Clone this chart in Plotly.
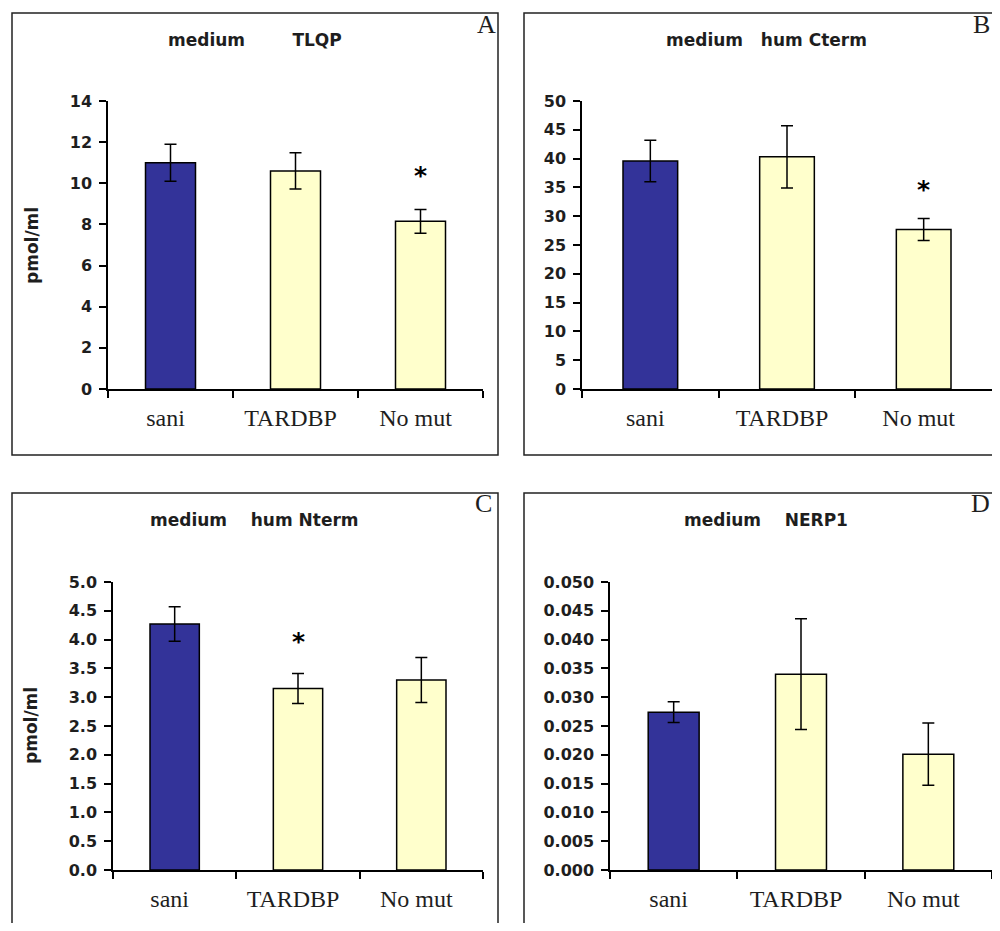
import plotly.graph_objects as go

# ---------------- data ----------------
categories = ["sani", "TARDBP", "No mut"]

tlqp_mean = [11.0, 10.6, 8.15]
tlqp_err = [0.9, 0.88, 0.58]

cterm_mean = [39.6, 40.3, 27.7]
cterm_err = [3.6, 5.4, 1.9]

nterm_mean = [4.27, 3.15, 3.30]
nterm_err = [0.30, 0.26, 0.39]

nerp1_mean = [0.0274, 0.0340, 0.0201]
nerp1_err = [0.0018, 0.0096, 0.0054]

# significance markers (category, y position of the asterisk)
tlqp_sig = [("No mut", 10.5)]
cterm_sig = [("No mut", 35.1)]
nterm_sig = [("TARDBP", 4.02)]
nerp1_sig = []

titles = ["medium        TLQP", "medium   hum Cterm", "medium    hum Nterm", "medium    NERP1"]
letters = ["A", "B", "C", "D"]
y_ranges = [[0, 14], [0, 50], [0, 5], [0, 0.05]]
y_dticks = [2, 5, 0.5, 0.005]
y_formats = ["d", "d", ".1f", ".3f"]

# ---------------- style ----------------
OFF = 8  # page body margin compensation
W, H = 1000 - 2 * OFF, 931 - 2 * OFF
bar_colors = ["#333399", "#FFFFCC", "#FFFFCC"]
TXT = "#1e1e1e"


def px(x):
    return min((x - OFF) / W, 1.0)


def py(y):
    return max(1 - (y - OFF) / H, 0.0)


def pxr(x):
    return (x - OFF) / W


def pyr(y):
    return 1 - (y - OFF) / H


# plot-area pixel boxes: (x0, x1, ytop, ybottom)
boxes = [(108, 483, 101, 389), (582, 994, 101, 389), (113, 483, 582, 870), (610, 994, 582, 870)]
# panel frames (x0, y0, x1, y1) in pixels
frames = [(12, 13, 498, 455), (524, 13, 1012, 455), (12, 493, 498, 945), (524, 493, 1012, 945)]
title_pos = [(255, 40), (766, 40), (254, 520), (766, 520)]
letter_pos = [(498, 24), (992, 24), (494, 504), (992, 504)]
ytitle_pos = [(32, 246), None, (31, 726), None]

means = [tlqp_mean, cterm_mean, nterm_mean, nerp1_mean]
errs = [tlqp_err, cterm_err, nterm_err, nerp1_err]
sigs = [tlqp_sig, cterm_sig, nterm_sig, nerp1_sig]

fig = go.Figure()
annotations = []
shapes = []

for i in range(4):
    s = "" if i == 0 else str(i + 1)
    fig.add_trace(go.Bar(
        x=categories, y=means[i],
        error_y=dict(type="data", array=errs[i], color="black", thickness=1.5, width=6),
        marker=dict(color=bar_colors, line=dict(color="black", width=1.5)),
        width=0.4, xaxis="x" + s, yaxis="y" + s, showlegend=False,
    ))
    x0, x1, yt, yb = boxes[i]
    fig.layout["xaxis" + s] = dict(
        domain=[px(x0), px(x1)], anchor="y" + s, range=[-0.5, 2.5],
        showline=True, linecolor="black", linewidth=1.5,
        ticks="outside", tickson="boundaries", ticklen=7, tickwidth=1.5, tickcolor="black",
        tickfont=dict(family="Liberation Serif", size=24, color=TXT),
        ticklabelstandoff=6, ticklabelshift=-5, automargin=False,
        showgrid=False, zeroline=False, fixedrange=True,
    )
    fig.layout["yaxis" + s] = dict(
        domain=[py(yb), py(yt)], anchor="x" + s, range=y_ranges[i], dtick=y_dticks[i],
        tick0=0, tickformat=y_formats[i],
        showline=True, linecolor="black", linewidth=1.5,
        ticks="outside", ticklen=7, tickwidth=1.5, tickcolor="black",
        tickfont=dict(family="DejaVu Sans", size=16, color=TXT, weight="bold"),
        ticklabelstandoff=4, automargin=False,
        showgrid=False, zeroline=False, fixedrange=True,
    )
    for cat, yv in sigs[i]:
        annotations.append(dict(
            x=cat, y=yv, xref="x" + s, yref="y" + s, text="<b>*</b>", showarrow=False,
            font=dict(family="DejaVu Sans", size=25, color="black"),
            yanchor="middle", yshift=-3,
        ))
    tx, ty = title_pos[i]
    annotations.append(dict(
        x=px(tx), y=py(ty), xref="paper", yref="paper", text="<b>" + titles[i] + "</b>",
        showarrow=False, font=dict(family="DejaVu Sans", size=17, color=TXT),
        xanchor="center", yanchor="middle",
    ))
    lx, ly = letter_pos[i]
    annotations.append(dict(
        x=px(lx), y=py(ly), xref="paper", yref="paper", text=letters[i],
        showarrow=False, font=dict(family="Liberation Serif", size=26, color=TXT),
        xanchor="right", yanchor="middle",
    ))
    if ytitle_pos[i] is not None:
        ax, ay = ytitle_pos[i]
        annotations.append(dict(
            x=px(ax), y=py(ay), xref="paper", yref="paper", text="<b>pmol/ml</b>",
            textangle=-90, showarrow=False,
            font=dict(family="DejaVu Sans", size=17, color=TXT),
            xanchor="center", yanchor="middle",
        ))
    fx0, fy0, fx1, fy1 = frames[i]
    shapes.append(dict(
        type="rect", xref="paper", yref="paper",
        x0=pxr(fx0), x1=pxr(fx1), y0=pyr(fy1), y1=pyr(fy0),
        line=dict(color="#222222", width=1.5), fillcolor="rgba(0,0,0,0)", layer="above",
    ))

fig.update_layout(
    width=W, height=H, margin=dict(l=0, r=0, t=0, b=0, pad=0),
    paper_bgcolor="white", plot_bgcolor="white",
    annotations=annotations, shapes=shapes, showlegend=False,
)

fig.write_html("out.html")
